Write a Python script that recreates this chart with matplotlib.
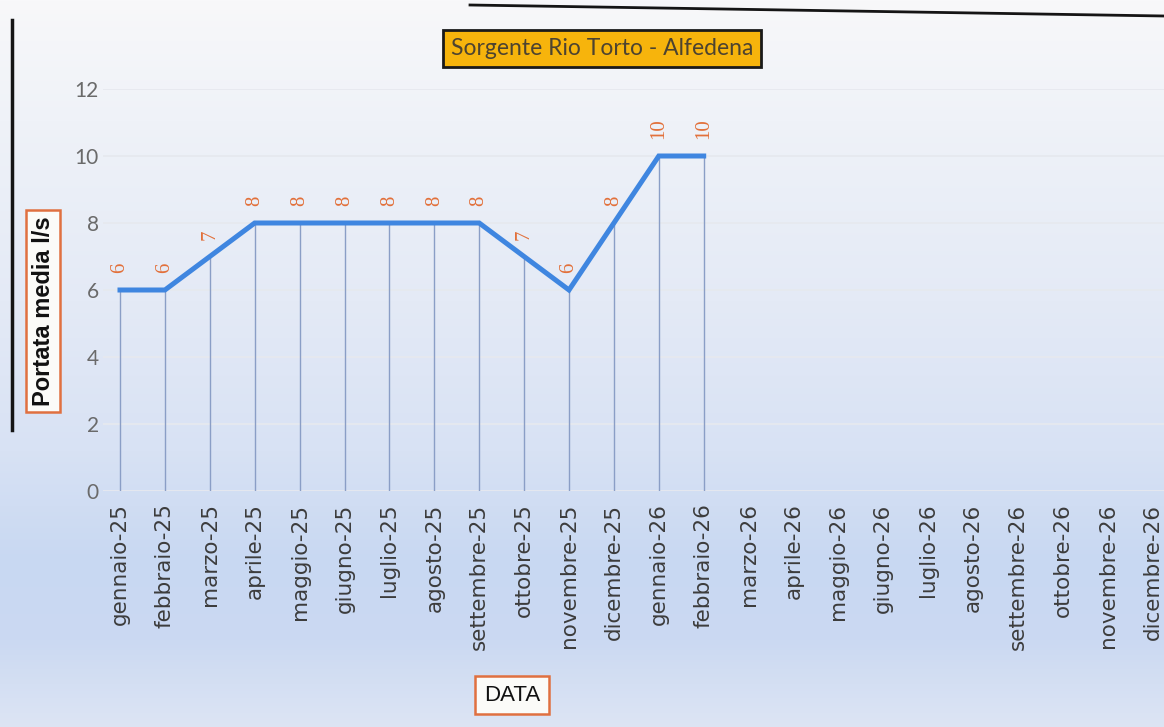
import numpy as np
import matplotlib
matplotlib.use("Agg")
import matplotlib.pyplot as plt
from matplotlib.lines import Line2D
from matplotlib.colors import to_rgb

# monthly mean flow, l/s
MONTHS = ["gennaio-25", "febbraio-25", "marzo-25", "aprile-25", "maggio-25", "giugno-25",
          "luglio-25", "agosto-25", "settembre-25", "ottobre-25", "novembre-25", "dicembre-25",
          "gennaio-26", "febbraio-26", "marzo-26", "aprile-26", "maggio-26", "giugno-26",
          "luglio-26", "agosto-26", "settembre-26", "ottobre-26", "novembre-26", "dicembre-26"]
PORTATA = [6, 6, 7, 8, 8, 8, 8, 8, 8, 7, 6, 8, 10, 10]
Y_TICKS = [0, 2, 4, 6, 8, 10, 12]

LINE_C = "#3f86e0"
DROP_C = "#8a9ec6"
LABEL_C = "#e2703a"

W, H = 1164, 727
fig = plt.figure(figsize=(W / 100, H / 100), dpi=100)

# soft white -> light blue backdrop
bg = fig.add_axes([0, 0, 1, 1], zorder=-10)
stops_y = [0, 120, 300, 450, 560, 640, 727]
stops_c = ["#f8f8fa", "#eff2f8", "#e4eaf6", "#d8e2f4", "#c8d8f2", "#cbd9f2", "#dde5f4"]
rows = np.arange(H)
rgb = np.array([to_rgb(c) for c in stops_c])
grad = np.stack([np.interp(rows, stops_y, rgb[:, k]) for k in range(3)], axis=1)
img = np.repeat(grad[:, None, :], 8, axis=1)
bg.imshow(img, aspect="auto", extent=[0, 1, 0, 1], origin="upper")
bg.axis("off")

x0, dx = 120, 44.9          # pixel of first category, spacing
left_px, y0_px, y12_px = 103, 491, 89
ax = fig.add_axes([left_px / W, (H - y0_px) / H, 1 - left_px / W, (y0_px - y12_px) / H])
ax.patch.set_alpha(0)
ax.set_xlim((left_px - x0) / dx, (W - x0) / dx)
ax.set_ylim(0, 12)

x = np.arange(len(PORTATA))
ax.vlines(x, 0, PORTATA, color=DROP_C, lw=1.0, zorder=2)
ax.plot(x, PORTATA, color=LINE_C, lw=3.6, solid_joinstyle="miter", zorder=3)
for xi, v in zip(x, PORTATA):
    ax.annotate("%.0f" % v, (xi, v), xytext=(0, 12), textcoords="offset points",
                rotation=90, ha="center", va="bottom", color=LABEL_C, fontsize=15,
                family="Liberation Serif")

ax.set_yticks(Y_TICKS)
ax.yaxis.grid(True, color="#e6e9ef", lw=1.3, zorder=0)
ax.set_xticks(np.arange(len(MONTHS)))
ax.set_xticklabels(MONTHS, rotation=90, fontsize=15.5, color="#3c3c3c", family="DejaVu Sans")
ax.tick_params(axis="y", labelsize=15, labelcolor="#6a6a6a", length=0, pad=3)
ax.tick_params(axis="x", length=0, pad=9)
for lab in ax.get_yticklabels():
    lab.set_family("Lato")
for s in ax.spines.values():
    s.set_visible(False)

fig.text(0.517, 0.933, "Sorgente Rio Torto - Alfedena", ha="center", va="center",
         fontsize=16.5, family="Lato", color="#4d4330",
         bbox=dict(boxstyle="square,pad=0.35", fc="#f7b40c", ec="#1a1a1a", lw=2))
fig.text(0.037, 0.572, "Portata media l/s", rotation=90, ha="center", va="center",
         fontsize=17, weight="bold", family="Liberation Sans", color="#111111",
         bbox=dict(boxstyle="square,pad=0.25", fc="#fbfbf8", ec="#e07040", lw=1.8))
fig.text(0.44, 0.044, "DATA", ha="center", va="center", fontsize=16,
         family="Liberation Sans", color="#111111",
         bbox=dict(boxstyle="square,pad=0.4", fc="#fbfbf8", ec="#e07040", lw=1.8))

# edge of the sheet
fig.add_artist(Line2D([12 / W, 12 / W], [1 - 20 / H, 1 - 430 / H], color="#151515", lw=2.5))
fig.add_artist(Line2D([470 / W, 1.0], [1 - 5 / H, 1 - 16 / H], color="#151515", lw=2.0))

fig.savefig("out.png", dpi=100)
